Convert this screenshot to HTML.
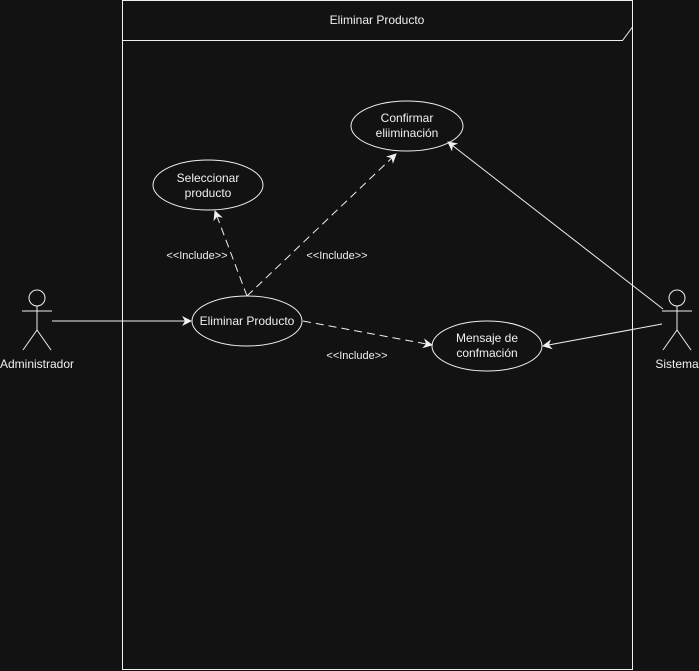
<!DOCTYPE html>
<html><head><meta charset="utf-8"><style>
html,body{margin:0;padding:0;background:#121212;}
svg{display:block;}
text{font-family:"Liberation Sans",sans-serif;fill:#f0f0f0;font-size:12px;}
</style></head><body>
<svg width="699" height="671" viewBox="0 0 699 671">
<defs>
<marker id="a" markerWidth="10" markerHeight="10" refX="9" refY="5" orient="auto" markerUnits="userSpaceOnUse">
<path d="M0,0 L10,5 L0,10 L3,5 z" fill="#f0f0f0"/></marker>
</defs>
<g stroke="#f0f0f0" fill="none" stroke-width="1">
<rect x="122.5" y="0.5" width="510" height="669"/>
<path d="M122.5,40.5 H622.5 L632.5,27"/>
<ellipse cx="407" cy="126" rx="56" ry="25"/>
<ellipse cx="208" cy="185" rx="55" ry="25"/>
<ellipse cx="247" cy="321" rx="55" ry="25"/>
<ellipse cx="487" cy="346" rx="55" ry="25"/>
<circle cx="37" cy="298" r="8"/>
<path d="M37,306 V330 M22,311 H52 M37,330 L23,350 M37,330 L51,350"/>
<circle cx="677" cy="298" r="8"/>
<path d="M677,306 V330 M662,311 H692 M677,330 L663,350 M677,330 L691,350"/>
<path d="M52,321 H191" marker-end="url(#a)"/>
<path d="M663,309 L448,142" marker-end="url(#a)"/>
<path d="M662,324 L543,346" marker-end="url(#a)"/>
<g stroke-dasharray="8,5">
<path d="M247,296 L215,211" marker-end="url(#a)"/>
<path d="M247,296 L396,154" marker-end="url(#a)"/>
<path d="M303,321 L432,345" marker-end="url(#a)"/>
</g>
</g>
<text x="377" y="24" text-anchor="middle">Eliminar Producto</text>
<text x="407" y="122" text-anchor="middle">Confirmar</text>
<text x="407" y="137" text-anchor="middle">eliiminación</text>
<text x="208" y="182" text-anchor="middle">Seleccionar</text>
<text x="208" y="197" text-anchor="middle">producto</text>
<text x="247" y="325" text-anchor="middle">Eliminar Producto</text>
<text x="487" y="342" text-anchor="middle">Mensaje de</text>
<text x="487" y="357" text-anchor="middle">confmación</text>
<text x="37" y="368" text-anchor="middle">Administrador</text>
<text x="677" y="368" text-anchor="middle">Sistema</text>
<text x="197" y="259" text-anchor="middle" style="font-size:11px">&lt;&lt;Include&gt;&gt;</text>
<text x="337" y="259" text-anchor="middle" style="font-size:11px">&lt;&lt;Include&gt;&gt;</text>
<text x="357" y="359" text-anchor="middle" style="font-size:11px">&lt;&lt;Include&gt;&gt;</text>
</svg>
</body></html>
